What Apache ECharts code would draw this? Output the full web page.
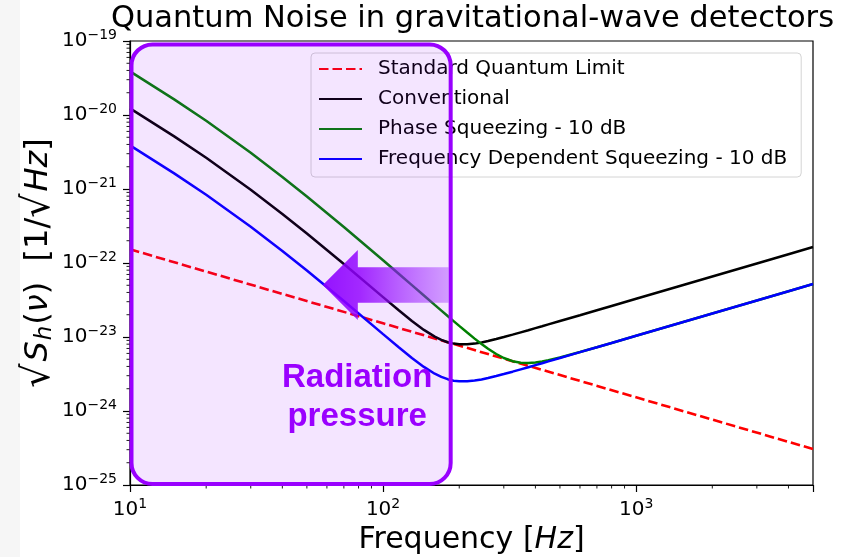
<!DOCTYPE html>
<html>
<head>
<meta charset="utf-8">
<title>Quantum Noise in gravitational-wave detectors</title>
<script src="https://cdn.jsdelivr.net/npm/echarts@6/dist/echarts.min.js"></script>
<style>
  html, body { margin: 0; padding: 0; background: #fff; }
  #chart { width: 850px; height: 557px; }
</style>
</head>
<body>
<div id="chart"></div>
<script>
// Strain noise amplitude spectra, 1/sqrt(Hz), sampled at these frequencies (Hz)
const frequencyHz = [10, 15, 20, 30, 40, 50, 70, 100, 115, 130, 145, 160, 170, 180, 190, 200,
  215, 230, 245, 260, 280, 300, 325, 350, 375, 400, 425, 450, 500, 600, 700, 800, 1000,
  1500, 2000, 3000, 4000, 5000];

const conventional = [1.230e-20, 5.10e-21, 2.639e-21, 9.78e-22, 4.606e-22, 2.505e-22, 9.69e-23,
  3.457e-23, 2.314e-23, 1.647e-23, 1.247e-23, 1.010e-23, 9.13e-24, 8.50e-24, 8.14e-24, 7.96e-24,
  7.96e-24, 8.14e-24, 8.45e-24, 8.82e-24, 9.38e-24, 9.98e-24, 1.076e-23, 1.156e-23, 1.236e-23,
  1.318e-23, 1.399e-23, 1.481e-23, 1.645e-23, 1.972e-23, 2.300e-23, 2.628e-23, 3.285e-23,
  4.926e-23, 6.568e-23, 9.851e-23, 1.3135e-22, 1.642e-22];

const phaseSqueezing = [3.889e-20, 1.613e-20, 8.347e-21, 3.093e-21, 1.457e-21, 7.92e-22, 3.063e-22,
  1.088e-22, 7.214e-23, 5.024e-23, 3.637e-23, 2.718e-23, 2.273e-23, 1.920e-23, 1.639e-23, 1.412e-23,
  1.148e-23, 9.51e-24, 8.04e-24, 6.93e-24, 5.89e-24, 5.20e-24, 4.71e-24, 4.49e-24, 4.45e-24,
  4.52e-24, 4.66e-24, 4.84e-24, 5.28e-24, 6.26e-24, 7.28e-24, 8.31e-24, 1.039e-23,
  1.558e-23, 2.077e-23, 3.115e-23, 4.154e-23, 5.192e-23];

const freqDependentSqueezing = [3.89e-21, 1.613e-21, 8.35e-22, 3.09e-22, 1.457e-22, 7.92e-23, 3.064e-23,
  1.093e-23, 7.32e-24, 5.21e-24, 3.94e-24, 3.19e-24, 2.89e-24, 2.69e-24, 2.57e-24, 2.52e-24,
  2.52e-24, 2.575e-24, 2.67e-24, 2.79e-24, 2.97e-24, 3.155e-24, 3.40e-24, 3.655e-24, 3.91e-24,
  4.167e-24, 4.42e-24, 4.68e-24, 5.20e-24, 6.24e-24, 7.27e-24, 8.31e-24, 1.039e-23,
  1.558e-23, 2.077e-23, 3.115e-23, 4.154e-23, 5.192e-23];

// Standard quantum limit falls as 1/f
const sqlFrequencyHz = [10, 100, 1000, 5000];
const standardQuantumLimit = [1.53e-22, 1.53e-23, 1.53e-24, 3.06e-25];

const seriesNames = ['Standard Quantum Limit', 'Conventional',
  'Phase Squeezing - 10 dB', 'Frequency Dependent Squeezing - 10 dB'];

// Axis ranges and minor tick multiples. The lower y bound sits a hair under
// 1e-25 so the 10^-25 decade is kept as a regular labelled tick.
const X_MIN = 10, X_MAX = 5000;
const Y_MIN = 0.99999e-25, Y_MAX = 1e-19;
const xDecades = [1, 2, 3];
const yDecades = [-25, -24, -23, -22, -21, -20];
const minorMultiples = [2, 3, 4, 5, 6, 7, 8, 9];

// Radiation-pressure annotation, placed in data coordinates
const boxHz = [10, 185];
const boxStrain = [1e-25, 9e-20];
const arrowTip = [57.8, 5.05e-23];
const labelAt = [79, 1.55e-24];

// "10^n" tick labels as rich text with a raised exponent
function powerLabel(v) {
  const e = Math.log10(v);
  const r = Math.round(e);
  if (!isFinite(e) || Math.abs(e - r) > 1e-9) return '';
  const exp = r < 0 ? '\u2212' + String(-r) : String(r);
  return '{b|10}{s|' + exp + '}';
}
const FONT = 'DejaVu Sans';
const tickRich = {
  b: { fontFamily: FONT, fontSize: 20, color: '#000', lineHeight: 26 },
  s: { fontFamily: FONT, fontSize: 14, color: '#000', lineHeight: 14, padding: [0, 0, 12, 0] }
};

const xMinorTicks = [];
xDecades.forEach(d => minorMultiples.forEach(m => {
  const v = m * Math.pow(10, d);
  if (v < X_MAX) xMinorTicks.push(v);
}));
const yMinorTicks = [];
yDecades.forEach(d => minorMultiples.forEach(m => yMinorTicks.push(m * Math.pow(10, d))));

function pairs(xs, ys) { return xs.map((x, i) => [x, ys[i]]); }

function minorTickSeries(values, dir) {
  return {
    type: 'custom',
    coordinateSystem: 'cartesian2d',
    silent: true,
    clip: false,
    z: 6,
    data: values.map(v => dir === 'x' ? [v, Y_MIN] : [X_MIN, v]),
    renderItem: (params, api) => {
      const p = api.coord([api.value(0), api.value(1)]);
      const shape = dir === 'x'
        ? { x1: p[0], y1: p[1], x2: p[0], y2: p[1] + 3.5 }
        : { x1: p[0], y1: p[1], x2: p[0] - 3.5, y2: p[1] };
      return { type: 'line', shape, style: { stroke: '#000', lineWidth: 0.9 } };
    }
  };
}

const nameRich = {
  r: { fontFamily: FONT, fontSize: 30, color: '#000', lineHeight: 34 },
  i: { fontFamily: FONT, fontSize: 30, color: '#000', fontStyle: 'italic', lineHeight: 34 },
  yr: { fontFamily: FONT, fontSize: 32, color: '#000', lineHeight: 36 },
  yq: { fontFamily: FONT, fontSize: 38, color: '#000', lineHeight: 36, padding: [0, 2, 0, 0] },
  yi: { fontFamily: FONT, fontSize: 32, color: '#000', fontStyle: 'italic', lineHeight: 36 },
  ys: { fontFamily: FONT, fontSize: 23, color: '#000', fontStyle: 'italic', lineHeight: 23, verticalAlign: 'bottom', padding: [0, 1, 0, 1] }
};

const axisCommon = {
  type: 'log',
  logBase: 10,
  axisLine: { show: true, onZero: false, lineStyle: { color: '#000', width: 1.2 } },
  axisTick: { show: true, inside: false, length: 7, lineStyle: { color: '#000', width: 1.2 } },
  splitLine: { show: false },
  minorTick: { show: false },
  minorSplitLine: { show: false },
  nameLocation: 'middle',
  nameMoveOverlap: false,
  nameTextStyle: { rich: nameRich }
};

function lineSeries(name, xs, ys, color, extra) {
  return {
    name, type: 'line', symbol: 'none', z: 3,
    data: pairs(xs, ys),
    lineStyle: Object.assign({ color, width: 2.5 }, extra || {}),
    itemStyle: { color, opacity: 0 }
  };
}

const chart = echarts.init(document.getElementById('chart'), null, { renderer: 'canvas' });

const option = {
  animation: false,
  backgroundColor: '#fff',
  title: {
    text: 'Quantum Noise in gravitational-wave detectors',
    left: 106, top: -1,
    textStyle: { fontFamily: FONT, fontSize: 30.5, fontWeight: 'normal', color: '#000' }
  },
  legend: {
    data: seriesNames,
    orient: 'vertical',
    left: 311, top: 53,
    padding: [5, 14, 7, 7],
    itemWidth: 43, itemHeight: 14, itemGap: 8,
    selectedMode: false,
    itemStyle: { opacity: 0 },
    backgroundColor: 'rgba(255,255,255,0.8)',
    borderColor: '#d4d4d4', borderWidth: 1, borderRadius: 4,
    textStyle: { fontFamily: FONT, fontSize: 20, color: '#000', lineHeight: 22, padding: [0, 0, 0, 11] }
  },
  grid: {
    left: 130, right: 37, top: 41, bottom: 72,
    show: true, borderColor: '#000', borderWidth: 1.2,
    containLabel: false, outerBoundsMode: 'none'
  },
  xAxis: Object.assign({}, axisCommon, {
    min: X_MIN, max: X_MAX,
    axisLabel: { formatter: powerLabel, rich: tickRich, margin: 12, showMinLabel: true, showMaxLabel: true, hideOverlap: false },
    name: '{r|Frequency [}{i|Hz}{r|]}',
    nameGap: 38
  }),
  yAxis: Object.assign({}, axisCommon, {
    min: Y_MIN, max: Y_MAX,
    axisLabel: { formatter: powerLabel, rich: tickRich, margin: 13, showMinLabel: true, showMaxLabel: true, hideOverlap: false },
    name: '{yq|\u221A}{yi|S}{ys|h}{yr|(}{yi|\u03BD}{yr|)  [1/}{yq|\u221A}{yi|Hz}{yr|]}',
    nameRotate: 90,
    nameGap: 73
  }),
  series: [
    lineSeries(seriesNames[0], sqlFrequencyHz, standardQuantumLimit, '#ff0000', { width: 2.6, type: [9.5, 4] }),
    lineSeries(seriesNames[1], frequencyHz, conventional, '#000000'),
    lineSeries(seriesNames[2], frequencyHz, phaseSqueezing, '#008000'),
    lineSeries(seriesNames[3], frequencyHz, freqDependentSqueezing, '#0000ff'),
    minorTickSeries(xMinorTicks, 'x'),
    minorTickSeries(yMinorTicks, 'y')
  ]
};

chart.setOption(option);

// Annotation overlay: shaded radiation-pressure region, arrow and label
function px(f, v) { return chart.convertToPixel({ gridIndex: 0 }, [f, v]); }
const [bx0, by0] = px(boxHz[0], boxStrain[1]);
const [bx1, by1] = px(boxHz[1], boxStrain[0]);
const [tx, ty] = px(arrowTip[0], arrowTip[1]);
const [lx, ly] = px(labelAt[0], labelAt[1]);
const headLen = 35, headHalf = 35, shaftHalf = 17.7;
const shaftEnd = bx1 - 2;

chart.setOption({
  graphic: [
    {
      type: 'rect', z: -10, silent: true,
      shape: { x: 0, y: 0, width: 20, height: 557 },
      style: { fill: '#f6f6f6' }
    },
    {
      type: 'rect', z: 100, silent: true,
      shape: { x: bx0 + 1.5, y: by0, width: bx1 - bx0 - 1.5, height: by1 - by0 - 1, r: 21 },
      style: { fill: 'rgba(150,0,255,0.1)', stroke: '#9900ff', lineWidth: 4 }
    },
    {
      type: 'polygon', z: 101, silent: true,
      shape: {
        points: [
          [tx, ty],
          [tx + headLen, ty - headHalf],
          [tx + headLen, ty - shaftHalf],
          [shaftEnd, ty - shaftHalf],
          [shaftEnd, ty + shaftHalf],
          [tx + headLen, ty + shaftHalf],
          [tx + headLen, ty + headHalf]
        ]
      },
      style: {
        fill: new echarts.graphic.LinearGradient(0, 0, 1, 0, [
          { offset: 0, color: 'rgba(140,0,255,0.92)' },
          { offset: 0.3, color: 'rgba(145,0,255,0.82)' },
          { offset: 1, color: 'rgba(155,40,255,0.38)' }
        ])
      }
    },
    {
      type: 'text', z: 102, silent: true,
      x: lx, y: ly,
      style: {
        text: 'Radiation\npressure',
        fontFamily: 'Liberation Sans', fontSize: 33, fontWeight: 'bold',
        fill: '#9a00ff', textAlign: 'center', textVerticalAlign: 'middle', lineHeight: 39
      }
    }
  ]
});
</script>
</body>
</html>
